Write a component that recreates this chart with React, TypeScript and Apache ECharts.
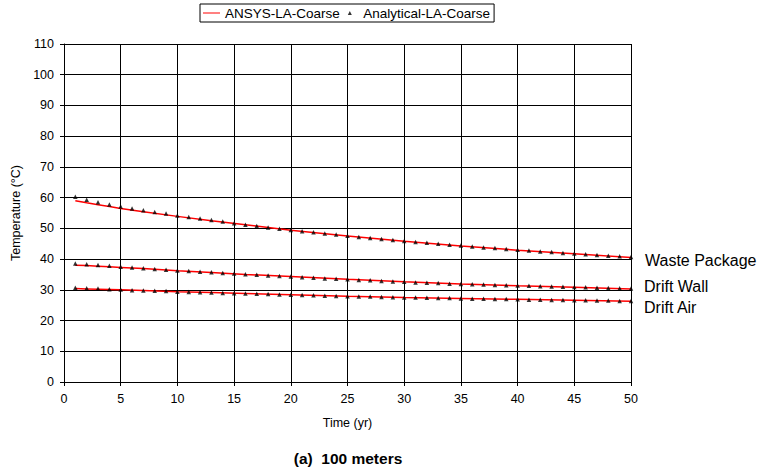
import React, { useEffect, useRef } from "react";
import * as echarts from "echarts";

const years = [1, 2, 3, 4, 5, 6, 7, 8, 9, 10, 11, 12, 13, 14, 15, 16, 17, 18, 19, 20, 21, 22, 23, 24, 25, 26, 27, 28, 29, 30, 31, 32, 33, 34, 35, 36, 37, 38, 39, 40, 41, 42, 43, 44, 45, 46, 47, 48, 49, 50];

const analyticalWastePackage = [60.3, 59.3, 58.5, 57.8, 57.1, 56.5, 55.9, 55.3, 54.8, 54.2, 53.7, 53.2, 52.7, 52.2, 51.7, 51.2, 50.8, 50.3, 49.9, 49.5, 49.1, 48.7, 48.3, 48.0, 47.6, 47.2, 46.9, 46.5, 46.2, 45.9, 45.6, 45.3, 45.0, 44.7, 44.4, 44.1, 43.8, 43.6, 43.3, 43.0, 42.8, 42.5, 42.3, 42.0, 41.8, 41.6, 41.3, 41.1, 40.9, 40.7];
const analyticalDriftWall = [38.6, 38.3, 38.1, 37.8, 37.5, 37.3, 37.0, 36.8, 36.5, 36.3, 36.1, 35.9, 35.7, 35.5, 35.3, 35.1, 34.9, 34.7, 34.5, 34.3, 34.1, 33.9, 33.7, 33.6, 33.4, 33.2, 33.1, 32.9, 32.7, 32.6, 32.4, 32.3, 32.2, 32.0, 31.9, 31.8, 31.7, 31.6, 31.5, 31.4, 31.3, 31.2, 31.1, 31.0, 30.9, 30.8, 30.7, 30.6, 30.5, 30.4];
const analyticalDriftAir = [30.7, 30.5, 30.4, 30.2, 30.1, 29.9, 29.8, 29.7, 29.6, 29.4, 29.3, 29.2, 29.1, 29.0, 28.9, 28.8, 28.7, 28.6, 28.5, 28.4, 28.3, 28.2, 28.1, 28.0, 27.9, 27.8, 27.8, 27.7, 27.6, 27.5, 27.5, 27.4, 27.3, 27.3, 27.2, 27.1, 27.1, 27.0, 27.0, 26.9, 26.8, 26.8, 26.7, 26.7, 26.6, 26.6, 26.5, 26.5, 26.4, 26.4];

const ansysYears = [1, 2, 3, 4, 5, 7, 10, 13, 16, 20, 25, 30, 35, 40, 45, 50];
const ansysWastePackage = [59.0, 58.3, 57.7, 57.1, 56.5, 55.4, 53.9, 52.5, 51.2, 49.4, 47.5, 45.8, 44.3, 42.9, 41.7, 40.5];
const ansysDriftWall = [38.0, 37.9, 37.7, 37.5, 37.3, 36.9, 36.2, 35.6, 35.0, 34.3, 33.4, 32.6, 31.9, 31.3, 30.8, 30.3];
const ansysDriftAir = [30.4, 30.3, 30.2, 30.1, 30.0, 29.8, 29.4, 29.1, 28.8, 28.4, 27.9, 27.5, 27.2, 26.9, 26.6, 26.3];

const curveLabels = ["Waste Package", "Drift Wall", "Drift Air"];
const ansysName = "ANSYS-LA-Coarse";
const analyticalName = "Analytical-LA-Coarse";

const FONT = "'Liberation Sans', Arial, sans-serif";

function pair(xs: number[], ys: number[]) {
  return xs.map((x, i) => [x, ys[i]]);
}

export default function App() {
  const ref = useRef<HTMLDivElement>(null);
  useEffect(() => {
    if (!ref.current) return;
    const chart = echarts.init(ref.current, undefined, { renderer: "svg" });
    const lineSeries = (ys: number[]) => ({
      type: "line",
      name: ansysName,
      data: pair(ansysYears, ys),
      symbol: "none",
      color: "#ff0000",
      lineStyle: { color: "#ff0000", width: 1.5 },
      z: 2,
    });
    const pointSeries = (ys: number[]) => ({
      type: "scatter",
      name: analyticalName,
      data: pair(years, ys),
      symbol: "triangle",
      symbolSize: 4.5,
      color: "#000",
      itemStyle: { color: "#000" },
      z: 3,
    });
    chart.setOption({
      animation: false,
      textStyle: { fontFamily: FONT },
      grid: { left: 64, right: 132, top: 44, bottom: 89, containLabel: false },
      legend: {
        left: 200,
        top: 4,
        padding: [2, 4, 2, 3],
        itemWidth: 17,
        itemHeight: 4,
        itemGap: 8,
        symbolKeepAspect: true,
        borderColor: "#000",
        borderWidth: 1,
        textStyle: { fontSize: 13.5, color: "#000", fontFamily: FONT },
        data: [
          { name: ansysName, icon: "path://M0,0L17,0L17,1L0,1Z", itemStyle: { color: "#ff0000" } },
          { name: analyticalName, icon: "path://M0,10L5,0L10,10Z", itemStyle: { color: "#000" } },
        ],
      },
      xAxis: {
        type: "value",
        min: 0,
        max: 50,
        interval: 5,
        name: "Time (yr)",
        nameLocation: "middle",
        nameGap: 34,
        nameTextStyle: { fontSize: 12.5, color: "#000", fontFamily: FONT },
        axisLine: { lineStyle: { color: "#000", width: 1 } },
        axisTick: { show: true, length: 4, lineStyle: { color: "#000" } },
        axisLabel: { fontSize: 12.5, color: "#000", margin: 10, fontFamily: FONT },
        splitLine: { show: true, lineStyle: { color: "#000", width: 1 } },
      },
      yAxis: {
        type: "value",
        min: 0,
        max: 110,
        interval: 10,
        name: "Temperature (°C)",
        nameLocation: "middle",
        nameGap: 36,
        nameRotate: 90,
        nameTextStyle: { fontSize: 12.5, color: "#000", fontFamily: FONT },
        axisLine: { show: true, lineStyle: { color: "#000", width: 1 } },
        axisTick: { show: true, length: 4, lineStyle: { color: "#000" } },
        axisLabel: { fontSize: 12.5, color: "#000", margin: 10, fontFamily: FONT },
        splitLine: { show: true, lineStyle: { color: "#000", width: 1 } },
      },
      series: [
        lineSeries(ansysWastePackage),
        lineSeries(ansysDriftWall),
        lineSeries(ansysDriftAir),
        pointSeries(analyticalWastePackage),
        pointSeries(analyticalDriftWall),
        pointSeries(analyticalDriftAir),
      ],
      graphic: [
        {
          type: "text",
          left: 645,
          top: 252,
          style: { text: curveLabels[0], fontSize: 16, fill: "#000", fontFamily: FONT },
        },
        {
          type: "text",
          left: 644,
          top: 278,
          style: { text: curveLabels[1], fontSize: 16, fill: "#000", fontFamily: FONT },
        },
        {
          type: "text",
          left: 644,
          top: 299,
          style: { text: curveLabels[2], fontSize: 16, fill: "#000", fontFamily: FONT },
        },
        {
          type: "text",
          x: 348,
          y: 458,
          style: {
            text: "(a)  100 meters",
            fontSize: 15.5,
            fontWeight: "bold",
            fill: "#000",
            fontFamily: FONT,
            align: "center",
            verticalAlign: "middle",
          },
        },
      ],
    });
    return () => chart.dispose();
  }, []);
  return (
    <div
      ref={ref}
      style={{ position: "absolute", left: 0, top: 0, width: 763, height: 471, background: "#fff" }}
    />
  );
}
